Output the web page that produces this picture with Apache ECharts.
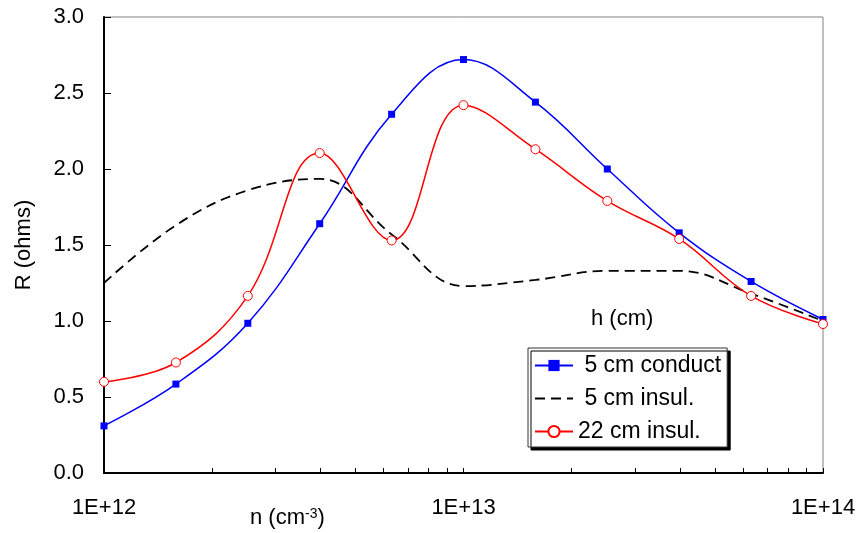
<!DOCTYPE html>
<html>
<head>
<meta charset="utf-8">
<script src="https://cdn.jsdelivr.net/npm/echarts@6/dist/echarts.min.js"></script>
<style>
  html, body { margin: 0; padding: 0; background: #fff; }
  #chart { width: 859px; height: 533px; }
</style>
</head>
<body>
<div id="chart"></div>
<script>
// n (cm-3), 5 points per decade
const nValues = [1e12, 1.585e12, 2.512e12, 3.981e12, 6.31e12, 1e13, 1.585e13, 2.512e13, 3.981e13, 6.31e13, 1e14]
const conduct5 = [0.31, 0.585, 0.985, 1.64, 2.36, 2.72, 2.44, 2.0, 1.58, 1.26, 1.01]
const insul5 = [1.25, 1.63, 1.86, 1.935, 1.57, 1.23, 1.27, 1.33, 1.33, 1.18, 1.0]
const insul22 = [0.60, 0.727, 1.165, 2.105, 1.53, 2.42, 2.13, 1.79, 1.54, 1.165, 0.98]

const xLabelValues = [1e12, 1e13, 1e14]
const xTickValues = []
;[1e12, 1e13].forEach(d => {
  for (let k = 1; k < 10; k++) xTickValues.push(k * d)
})
xTickValues.push(1e14)

const font = 'Liberation Sans, Arial, sans-serif'

function pairs(ys) {
  return nValues.map((x, i) => [x, ys[i]])
}

const chart = echarts.init(document.getElementById('chart'))

chart.setOption({
  animation: false,
  textStyle: { fontFamily: font },
  grid: {
    left: 104,
    right: 36,
    top: 17,
    bottom: 60,
    show: true,
    borderColor: '#808080',
    borderWidth: 1
  },
  legend: {
    orient: 'vertical',
    left: 528,
    top: 348,
    padding: [6, 6, 4, 6],
    itemWidth: 38,
    itemHeight: 14,
    itemGap: 10,
    backgroundColor: '#fff',
    borderColor: '#333',
    borderWidth: 1,
    shadowColor: '#000',
    shadowBlur: 0,
    shadowOffsetX: 3,
    shadowOffsetY: 3,
    textStyle: { fontSize: 23, color: '#000', fontFamily: font },
    formatter: name => (name.charAt(0) === '5' ? ' ' + name : name),
    data: ['5 cm conduct', '5 cm insul.', '22 cm insul.']
  },
  xAxis: {
    type: 'log',
    logBase: 10,
    min: 1e12,
    max: 1e14,
    axisLine: { show: true, lineStyle: { color: '#000', width: 2 } },
    axisTick: {
      show: true,
      inside: true,
      length: 5,
      customValues: xTickValues,
      lineStyle: { color: '#000', width: 1 }
    },
    axisLabel: {
      customValues: xLabelValues,
      margin: 24,
      fontSize: 22,
      color: '#000',
      fontFamily: font,
      formatter: v => '1E+' + Math.round(Math.log10(v))
    },
    splitLine: { show: false }
  },
  yAxis: {
    type: 'value',
    min: 0,
    max: 3,
    interval: 0.5,
    name: 'R (ohms)',
    nameLocation: 'middle',
    nameRotate: 90,
    nameGap: 69,
    nameTextStyle: { fontSize: 22, color: '#000', fontFamily: font },
    axisLine: { show: true, lineStyle: { color: '#000', width: 2 } },
    axisTick: { show: true, inside: true, length: 7, lineStyle: { color: '#000', width: 1 } },
    axisLabel: {
      margin: 20,
      fontSize: 22,
      color: '#000',
      fontFamily: font,
      formatter: v => v.toFixed(1)
    },
    splitLine: { show: false }
  },
  graphic: [
    {
      type: 'text',
      left: 250,
      top: 507,
      style: {
        text: 'n (cm{s|-3})',
        fontSize: 22,
        fontFamily: font,
        fill: '#000',
        rich: {
          s: { fontSize: 14, fontFamily: font, verticalAlign: 'top', padding: [0, 0, 6, 0] }
        }
      }
    },
    {
      type: 'text',
      left: 591,
      top: 308,
      style: { text: 'h (cm)', fontSize: 22, fontFamily: font, fill: '#000' }
    }
  ],
  series: [
    {
      name: '5 cm conduct',
      type: 'line',
      smooth: 0.4,
      data: pairs(conduct5),
      symbol: 'rect',
      symbolSize: 7,
      itemStyle: { color: '#0000ff' },
      lineStyle: { color: '#0000ff', width: 1.5 },
      z: 3
    },
    {
      name: '5 cm insul.',
      type: 'line',
      smooth: 0.4,
      data: pairs(insul5),
      showSymbol: false,
      symbol: 'none',
      itemStyle: { color: 'rgba(0,0,0,0)' },
      lineStyle: { color: '#000', width: 1.8, type: [10, 6] },
      z: 2
    },
    {
      name: '22 cm insul.',
      type: 'line',
      smooth: 0.4,
      data: pairs(insul22),
      symbol: 'circle',
      symbolSize: 9,
      itemStyle: { color: '#fff', borderColor: '#ff0000', borderWidth: 1 },
      lineStyle: { color: '#ff0000', width: 1.5 },
      z: 4
    }
  ]
})
</script>
</body>
</html>
